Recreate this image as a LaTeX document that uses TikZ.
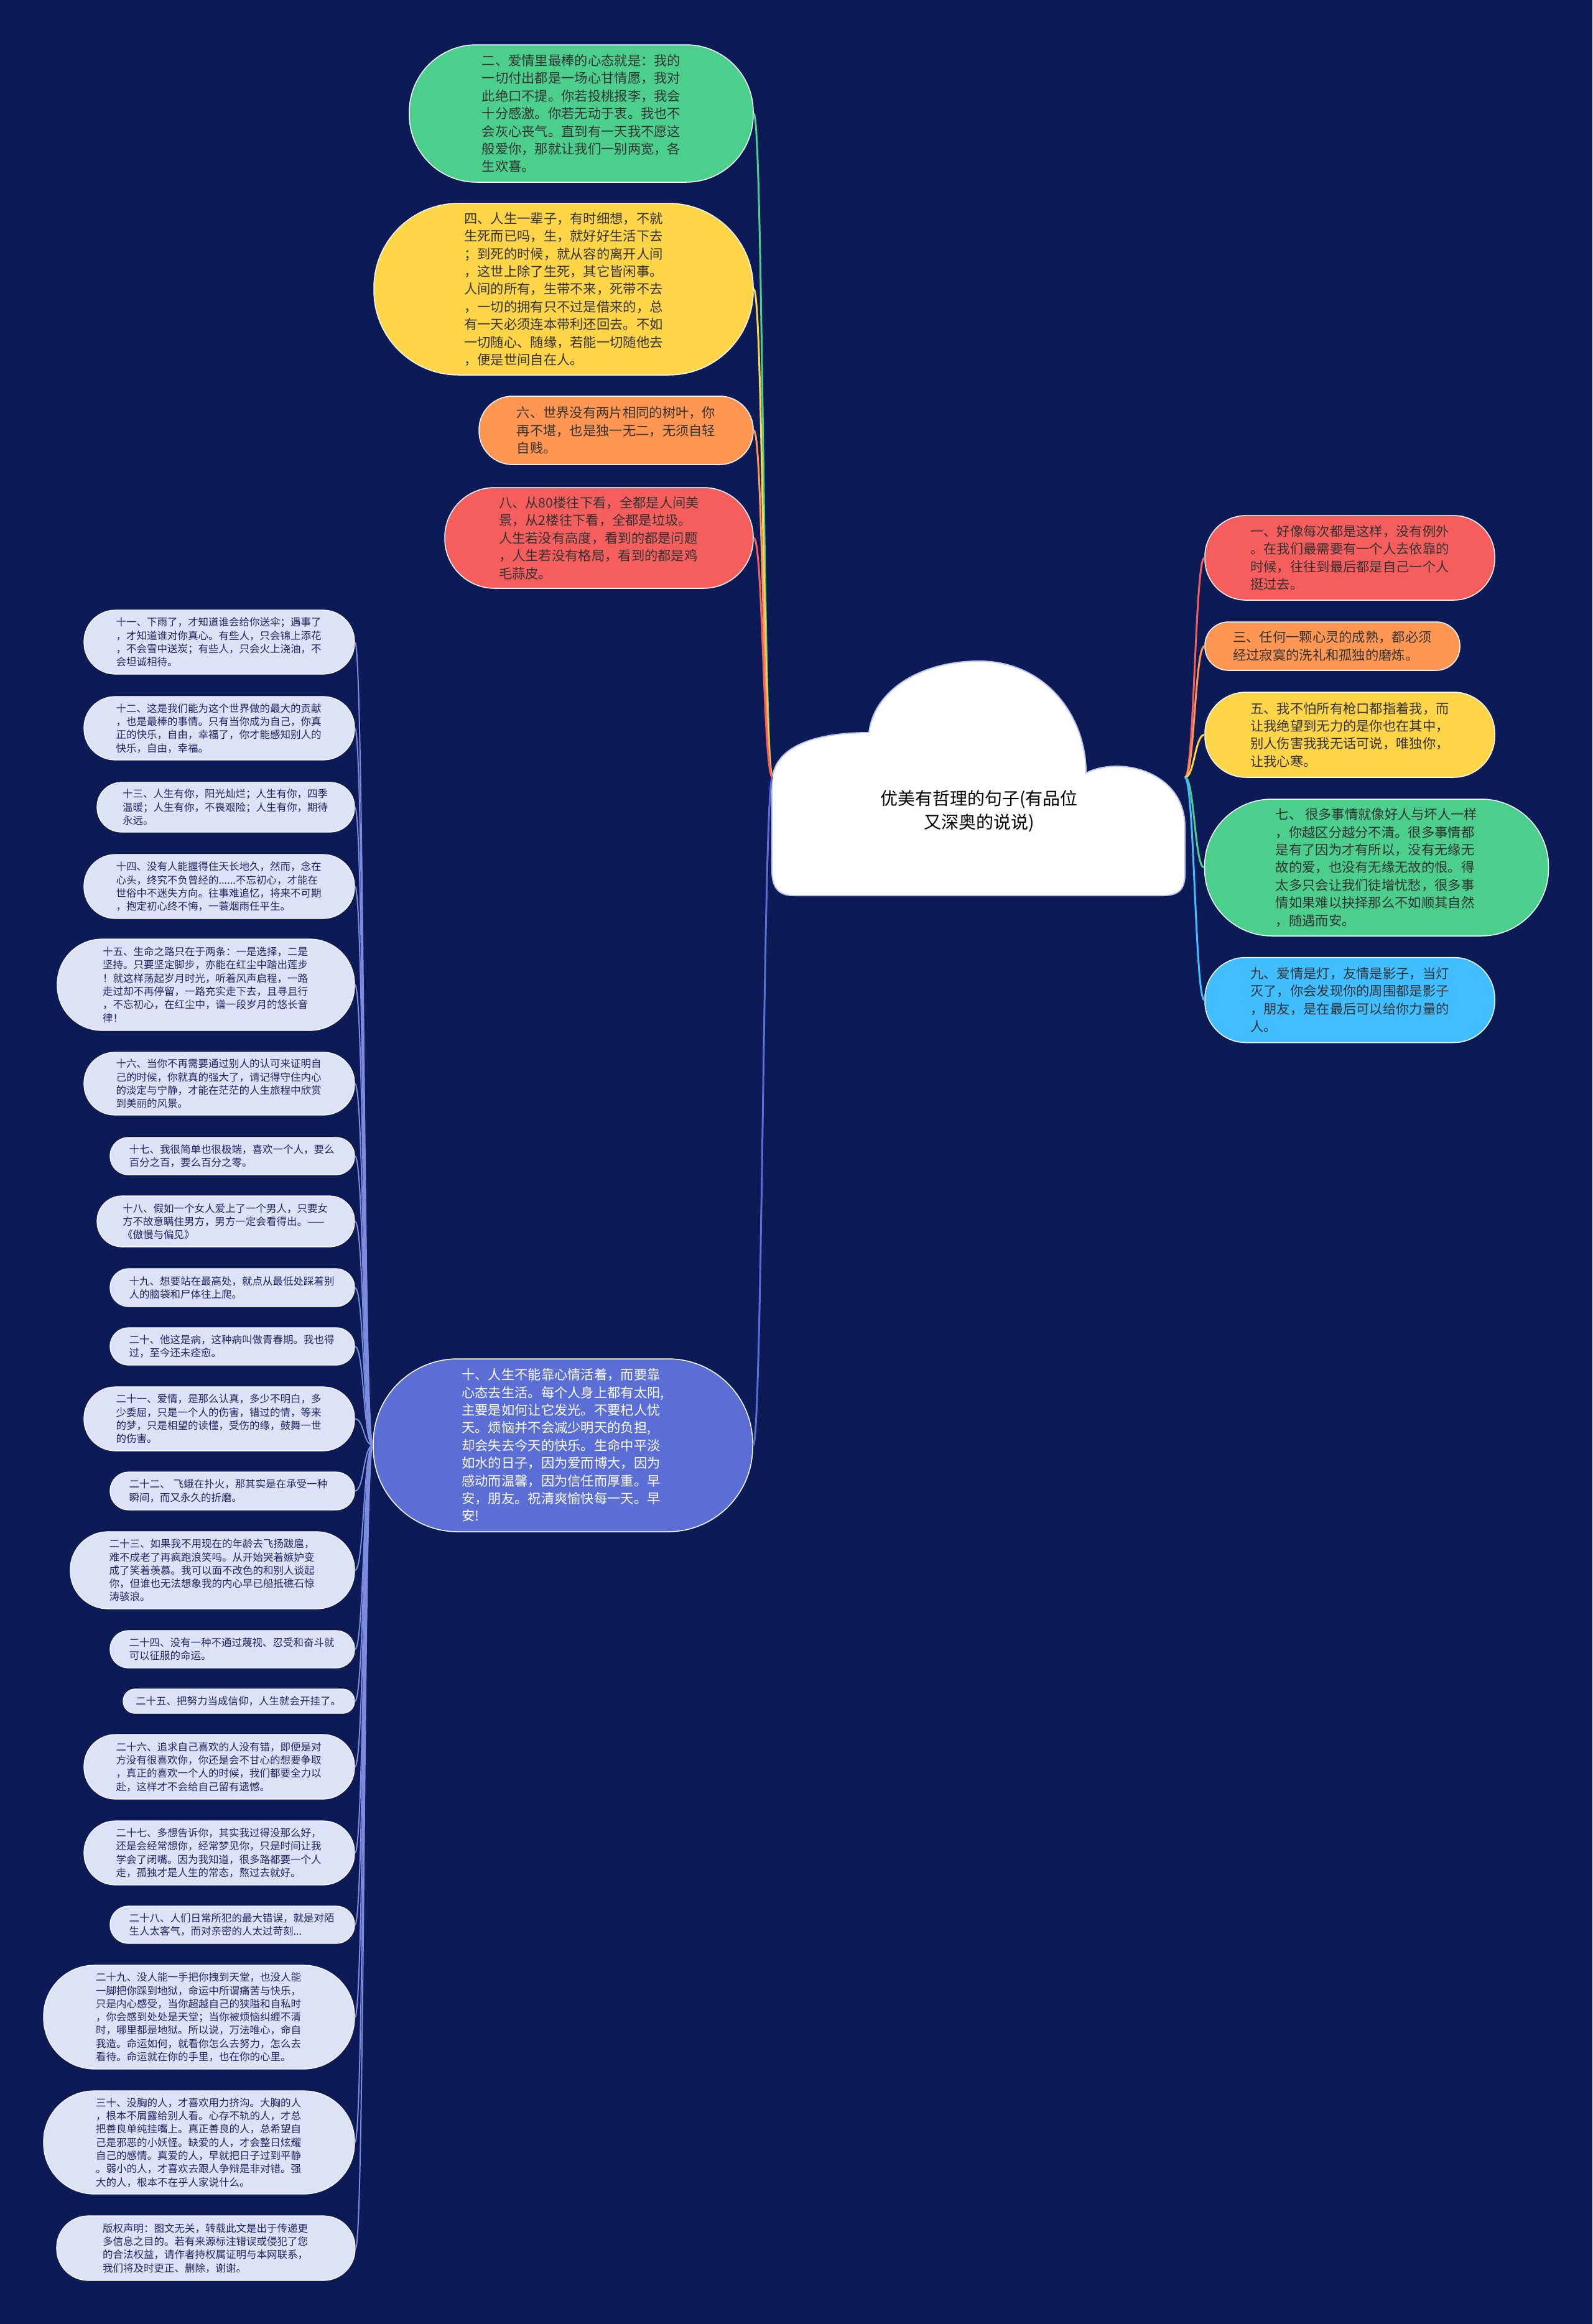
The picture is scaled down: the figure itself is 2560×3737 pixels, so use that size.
\documentclass[tikz,border=0pt]{standalone}
\usepackage{fontspec}
\setmainfont{Noto Sans CJK SC}

% colores del mapa
\definecolor{fondo}{RGB}{12,27,86}
\definecolor{verde}{RGB}{76,207,140}
\definecolor{amarillo}{RGB}{255,213,72}
\definecolor{naranja}{RGB}{255,150,82}
\definecolor{rojo}{RGB}{246,94,94}
\definecolor{celeste}{RGB}{64,190,255}
\definecolor{azul}{RGB}{90,110,214}
\definecolor{lila}{RGB}{222,226,246}
\definecolor{tinta}{RGB}{30,38,100}
\definecolor{gris}{RGB}{51,51,51}

\begin{document}
\begin{tikzpicture}[x=0.5pt, y=-0.5pt,
    idea/.style={draw=white, line width=0.75pt, text=gris, align=left, inner sep=0pt,
        font=\fontsize{10.65}{14.2}\selectfont},
    hoja/.style={draw=white, line width=0.6pt, fill=lila, text=tinta, align=left, inner sep=0pt,
        text width=166pt, font=\fontsize{8.25}{10.65}\selectfont},
    rama/.style={line width=1.5pt},
    ramita/.style={line width=1pt, draw=azul!80!white}
]

% Fondo
\fill[fondo] (0,0) rectangle (2560,3737);
\useasboundingbox (0,0) rectangle (2560,3737);

% Nube central
\draw[fill=white, draw=azul!40!white, line width=1pt]
    (1241,1260) .. controls (1241,1200) and (1310,1178) .. (1397,1178)
    .. controls (1405,1110) and (1480,1063) .. (1574,1063)
    .. controls (1680,1063) and (1746,1150) .. (1746,1243)
    .. controls (1800,1215) and (1905,1240) .. (1905,1330)
    -- (1905,1405) .. controls (1905,1430) and (1895,1440) .. (1870,1440)
    -- (1275,1440) .. controls (1250,1440) and (1241,1425) .. (1241,1400) -- cycle;
\node[font=\fontsize{14}{19}\selectfont, align=center, text=black] (root) at (1574,1304)
    {优美有哲理的句子(有品位\\又深奥的说说)};
\coordinate (rootL) at (1242,1250);
\coordinate (rootR) at (1905,1250);

% Ramas de arriba a la izquierda
\node[idea, fill=verde, minimum width=276.5pt, minimum height=110.5pt, rounded corners=54pt]
    (n2) at (934.5,182.5)
    {二、爱情里最棒的心态就是：我的\\一切付出都是一场心甘情愿，我对\\此绝口不提。你若投桃报李，我会\\十分感激。你若无动于衷。我也不\\会灰心丧气。直到有一天我不愿这\\般爱你，那就让我们一别两宽，各\\生欢喜。};
\node[idea, fill=amarillo, minimum width=305pt, minimum height=138pt, rounded corners=68pt]
    (n4) at (906,465)
    {四、人生一辈子，有时细想，不就\\生死而已吗，生，就好好生活下去\\；到死的时候，就从容的离开人间\\，这世上除了生死，其它皆闲事。\\人间的所有，生带不来，死带不去\\，一切的拥有只不过是借来的，总\\有一天必须连本带利还回去。不如\\一切随心、随缘，若能一切随他去\\，便是世间自在人。};
\node[idea, fill=naranja, minimum width=220.5pt, minimum height=55pt, rounded corners=27pt]
    (n6) at (990.5,692)
    {六、世界没有两片相同的树叶，你\\再不堪，也是独一无二，无须自轻\\自贱。};
\node[idea, fill=rojo, minimum width=248pt, minimum height=81pt, rounded corners=40pt]
    (n8) at (963,865)
    {八、从80楼往下看，全都是人间美\\景，从2楼往下看，全都是垃圾。\\人生若没有高度，看到的都是问题\\，人生若没有格局，看到的都是鸡\\毛蒜皮。};

% Ramas de la derecha
\node[idea, fill=rojo, minimum width=233pt, minimum height=68pt, rounded corners=33pt]
    (n1) at (2170,897)
    {一、好像每次都是这样，没有例外\\。在我们最需要有一个人去依靠的\\时候，往往到最后都是自己一个人\\挺过去。};
\node[idea, fill=naranja, minimum width=205pt, minimum height=39pt, rounded corners=19pt]
    (n3) at (2142,1039)
    {三、任何一颗心灵的成熟，都必须\\经过寂寞的洗礼和孤独的磨炼。};
\node[idea, fill=amarillo, minimum width=233pt, minimum height=68.5pt, rounded corners=33pt]
    (n5) at (2170,1181.5)
    {五、我不怕所有枪口都指着我，而\\让我绝望到无力的是你也在其中，\\别人伤害我我无话可说，唯独你，\\让我心寒。};
\node[idea, fill=verde, minimum width=276.5pt, minimum height=110pt, rounded corners=54pt]
    (n7) at (2213,1395)
    {七、 很多事情就像好人与坏人一样\\，你越区分越分不清。很多事情都\\是有了因为才有所以，没有无缘无\\故的爱，也没有无缘无故的恨。得\\太多只会让我们徒增忧愁，很多事\\情如果难以抉择那么不如顺其自然\\，随遇而安。};
\node[idea, fill=celeste, minimum width=233pt, minimum height=68.5pt, rounded corners=33pt]
    (n9) at (2170,1608)
    {九、爱情是灯，友情是影子，当灯\\灭了，你会发现你的周围都是影子\\，朋友，是在最后可以给你力量的\\人。};

% Rama grande de abajo
\node[idea, fill=azul, text=white, minimum width=305pt, minimum height=139pt,
    rounded corners=68pt] (n10) at (905,2324)
    {十、人生不能靠心情活着，而要靠\\心态去生活。每个人身上都有太阳,\\主要是如何让它发光。不要杞人忧\\天。烦恼并不会减少明天的负担,\\却会失去今天的快乐。生命中平淡\\如水的日子，因为爱而博大，因为\\感动而温馨，因为信任而厚重。早\\安，朋友。祝清爽愉快每一天。早\\安!};

% Conectores desde la nube
\foreach \nombre/\tono in {2/verde, 4/amarillo, 6/naranja, 8/rojo, 10/azul}
    \draw[rama, draw=\tono] (rootL) .. controls +(-15,0) and +(15,0) .. (n\nombre.east);
\foreach \nombre/\tono in {1/rojo, 3/naranja, 5/amarillo, 7/verde, 9/celeste}
    \draw[rama, draw=\tono] (rootR) .. controls +(15,0) and +(-15,0) .. (n\nombre.west);

% Hojas de la rama diez
% Formato: numero, x, y, ancho, alto, texto
\foreach \nombre/\px/\py/\ancho/\alto/\texto in {
    11/352.5/1032.5/435/103/{十一、下雨了，才知道谁会给你送伞；遇事了\\，才知道谁对你真心。有些人，只会锦上添花\\，不会雪中送炭；有些人，只会火上浇油，不\\会坦诚相待。},
    12/352.5/1171/435/102/{十二、这是我们能为这个世界做的最大的贡献\\，也是最棒的事情。只有当你成为自己，你真\\正的快乐，自由，幸福了，你才能感知别人的\\快乐，自由，幸福。},
    13/363/1298/414/80/{十三、人生有你，阳光灿烂；人生有你，四季\\温暖；人生有你，不畏艰险；人生有你，期待\\永远。},
    14/352.5/1425.5/435/103/{十四、没有人能握得住天长地久，然而，念在\\心头，终究不负曾经的......不忘初心，才能在\\世俗中不迷失方向。往事难追忆，将来不可期\\，抱定初心终不悔，一蓑烟雨任平生。},
    15/331/1583.5/478/147/{十五、生命之路只在于两条：一是选择，二是\\坚持。只要坚定脚步，亦能在红尘中踏出莲步\\！就这样荡起岁月时光，听着风声启程，一路\\走过却不再停留，一路充实走下去，且寻且行\\，不忘初心，在红尘中，谱一段岁月的悠长音\\律！},
    16/352.5/1742.5/435/101/{十六、当你不再需要通过别人的认可来证明自\\己的时候，你就真的强大了，请记得守住内心\\的淡定与宁静，才能在茫茫的人生旅程中欣赏\\到美丽的风景。},
    17/373.5/1859/393/60/{十七、我很简单也很极端，喜欢一个人，要么\\百分之百，要么百分之零。},
    18/363/1964/414/82/{十八、假如一个女人爱上了一个男人，只要女\\方不故意瞒住男方，男方一定会看得出。——\\《傲慢与偏见》},
    19/373.5/2070.5/393/61/{十九、想要站在最高处，就点从最低处踩着别\\人的脑袋和尸体往上爬。},
    20/373.5/2165/393/60/{二十、他这是病，这种病叫做青春期。我也得\\过，至今还未痊愈。},
    21/352.5/2281.5/435/103/{二十一、爱情，是那么认真，多少不明白，多\\少委屈，只是一个人的伤害，错过的情，等来\\的梦，只是相望的读懂，受伤的缘，鼓舞一世\\的伤害。},
    22/373.5/2397.5/393/61/{二十二、 飞蛾在扑火，那其实是在承受一种\\瞬间，而又永久的折磨。},
    23/341.5/2525/457/124/{二十三、如果我不用现在的年龄去飞扬跋扈，\\难不成老了再疯跑浪笑吗。从开始哭着嫉妒变\\成了笑着羡慕。我可以面不改色的和别人谈起\\你，但谁也无法想象我的内心早已船抵礁石惊\\涛骇浪。},
    24/373.5/2652/393/60/{二十四、没有一种不通过蔑视、忍受和奋斗就\\可以征服的命运。},
    25/384/2735.5/372/39/{二十五、把努力当成信仰，人生就会开挂了。},
    26/352.5/2841/435/104/{二十六、追求自己喜欢的人没有错，即便是对\\方没有很喜欢你，你还是会不甘心的想要争取\\，真正的喜欢一个人的时候，我们都要全力以\\赴，这样才不会给自己留有遗憾。},
    27/352.5/2979.5/435/103/{二十七、多想告诉你，其实我过得没那么好，\\还是会经常想你，经常梦见你，只是时间让我\\学会了闭嘴。因为我知道，很多路都要一个人\\走，孤独才是人生的常态，熬过去就好。},
    28/373.5/3095/393/60/{二十八、人们日常所犯的最大错误，就是对陌\\生人太客气，而对亲密的人太过苛刻...},
    29/320/3243.5/500/167/{二十九、没人能一手把你拽到天堂，也没人能\\一脚把你踩到地狱，命运中所谓痛苦与快乐，\\只是内心感受，当你超越自己的狭隘和自私时\\，你会感到处处是天堂；当你被烦恼纠缠不清\\时，哪里都是地狱。所以说，万法唯心，命自\\我造。命运如何，就看你怎么去努力，怎么去\\看待。命运就在你的手里，也在你的心里。},
    30/320/3445/500/166/{三十、没胸的人，才喜欢用力挤沟。大胸的人\\，根本不屑露给别人看。心存不轨的人，才总\\把善良单纯挂嘴上。真正善良的人，总希望自\\己是邪恶的小妖怪。缺爱的人，才会整日炫耀\\自己的感情。真爱的人，早就把日子过到平静\\。弱小的人，才喜欢去跟人争辩是非对错。强\\大的人，根本不在乎人家说什么。},
    nota/331/3615/480/104/{版权声明：图文无关，转载此文是出于传递更\\多信息之目的。若有来源标注错误或侵犯了您\\的合法权益，请作者持权属证明与本网联系，\\我们将及时更正、删除，谢谢。}
} {
    \pgfmathsetmacro{\radio}{\alto*0.245}
    \pgfmathsetmacro{\anchopt}{\ancho*0.5}
    \pgfmathsetmacro{\altopt}{\alto*0.5}
    \node[hoja, minimum width=\anchopt pt, minimum height=\altopt pt,
        rounded corners=\radio pt] (n\nombre) at (\px,\py) {\texto};
}

% Conectores de las hojas
\foreach \nombre in {11,12,13,14,15,16,17,18,19,20,21,22,23,24,25,26,27,28,29,30,nota}
    \draw[ramita] (n10.west) .. controls +(-15,0) and +(15,0) .. (n\nombre.east);
\end{tikzpicture}
\end{document}
